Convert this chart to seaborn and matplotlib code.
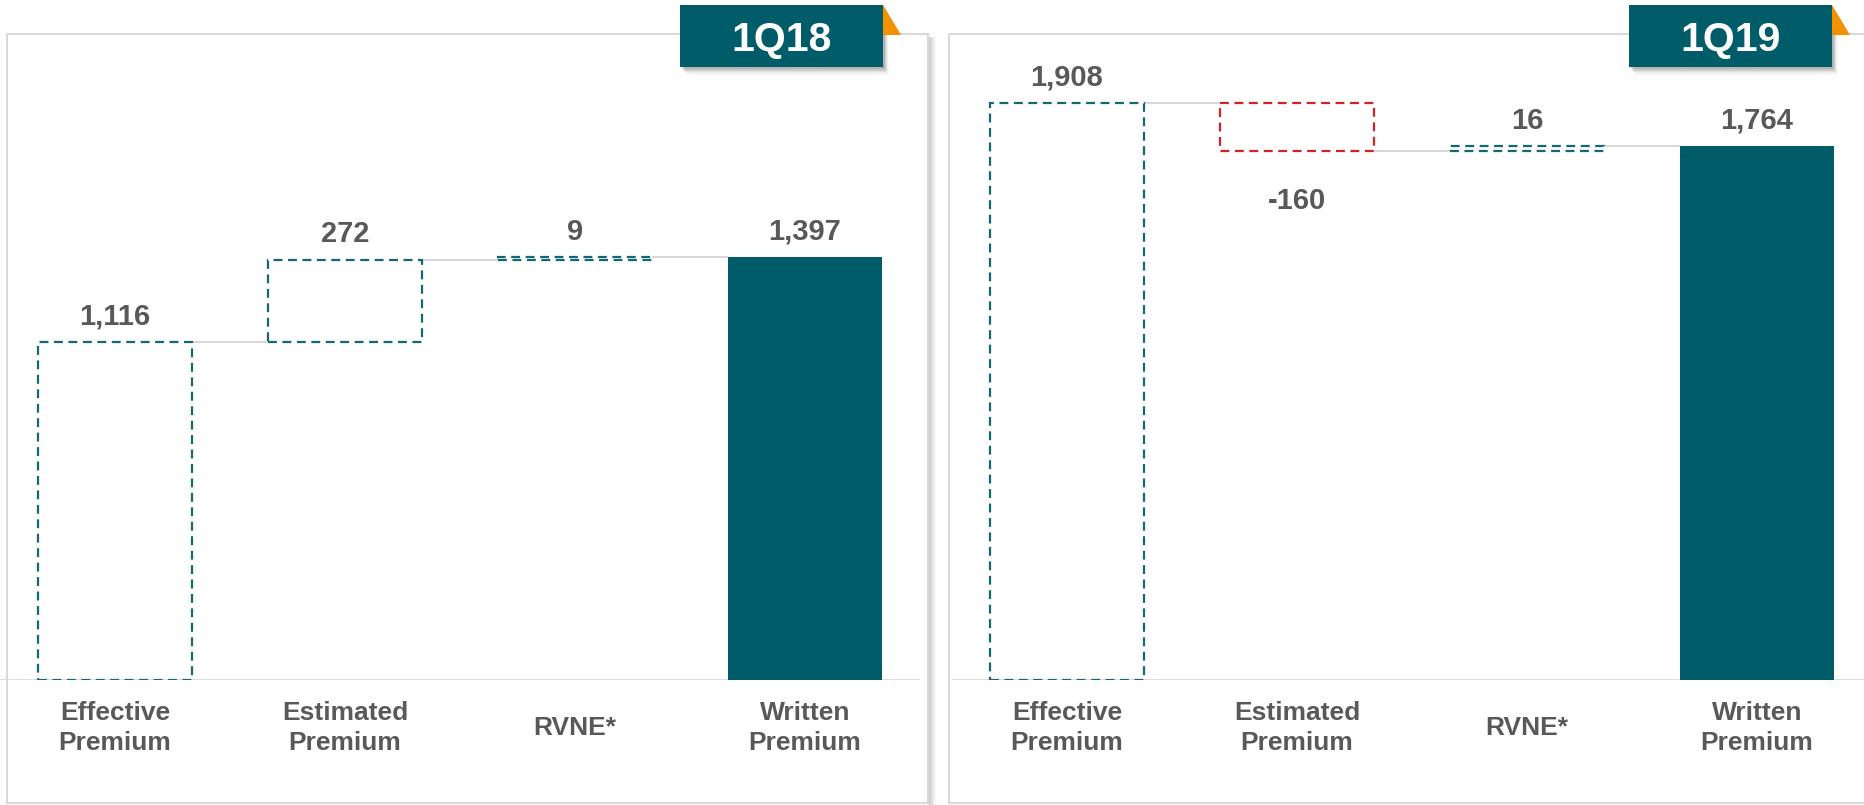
import matplotlib
matplotlib.use("Agg")
import matplotlib.pyplot as plt
from matplotlib.patches import Rectangle, Polygon
import seaborn as sns

# data
categories = ["Effective\nPremium", "Estimated\nPremium", "RVNE*", "Written\nPremium"]
values_1q18 = [1116, 272, 9, 1397]
values_1q19 = [1908, -160, 16, 1764]
periods = ["1Q18", "1Q19"]

TEAL = "#005C69"
DASH_TEAL = "#136874"
RED = "#D42027"
ORANGE = "#F39200"
GREY_TXT = "#595959"
GREY_LINE = "#D9D9D9"

sns.set_theme(style="white")
plt.rcParams['font.family'] = ['Liberation Sans', 'DejaVu Sans']

W, H = 1864, 805
fig = plt.figure(figsize=(W / 100, H / 100), dpi=100)

# background: panel frames (pixel coordinates)
bg = fig.add_axes([0, 0, 1, 1])
bg.set_xlim(0, W)
bg.set_ylim(H, 0)
bg.axis('off')
for x0, x1 in [(7, 928), (949, W + 5)]:
    bg.add_patch(Rectangle((x0, 34), x1 - x0, 769, fill=False, ec=GREY_LINE, lw=1.5))
for i, a in enumerate([0.35, 0.25, 0.15, 0.07]):
    bg.add_patch(Rectangle((929 + i * 1.8, 37), 1.8, 768, fc='#808080', ec='none', alpha=a))

PX_PER_UNIT = 0.3025
BAR_W = 0.67


def waterfall(ax, values):
    bottoms = [0, values[0], values[0] + values[1], 0]
    ends = [b + v for b, v in zip(bottoms, values)]
    sns.barplot(x=categories, y=values, ax=ax, width=BAR_W, color=TEAL, saturation=1)
    n = len(values)
    for i, (patch, b, v) in enumerate(zip(ax.patches, bottoms, values)):
        patch.set_y(b)
        patch.set_zorder(3)
        if i == n - 1:
            patch.set_facecolor(TEAL)
            patch.set_edgecolor('none')
        else:
            patch.set_facecolor('none')
            patch.set_edgecolor(RED if v < 0 else DASH_TEAL)
            patch.set_linestyle((0, (4, 2.5)))
            patch.set_linewidth(1.6)

    # connector lines between bars
    for i in range(n - 1):
        ax.hlines(ends[i], i + BAR_W / 2, i + 1 - BAR_W / 2, color=GREY_LINE, lw=1.5, zorder=1)

    # value labels
    for i, (b, v) in enumerate(zip(bottoms, values)):
        if v >= 0:
            ax.annotate(f"{v:,}", (i, b + v), xytext=(0, 8.5), textcoords='offset points',
                        ha='center', va='bottom', fontsize=21, fontweight='bold', color=GREY_TXT)
        else:
            ax.annotate(f"{v:,}", (i, b + v), xytext=(0, -26), textcoords='offset points',
                        ha='center', va='top', fontsize=21, fontweight='bold', color=GREY_TXT)

    ax.axhline(0, color=GREY_LINE, lw=2, zorder=2)
    ax.set_xticks(range(n))
    ax.set_xticklabels(categories, fontsize=19, fontweight='bold', color=GREY_TXT,
                       va='center', linespacing=1.3)
    ax.tick_params(axis='x', length=0, pad=34.5)
    ax.set_yticks([])
    ax.set_xlabel('')
    ax.set_ylabel('')
    for s in ax.spines.values():
        s.set_visible(False)
    ax.patch.set_alpha(0)


ax_h = 646 / H
ax_b = (H - 680) / H
ax1 = fig.add_axes([0, ax_b, 920 / W, ax_h])
waterfall(ax1, values_1q18)
ax1.set_xlim(-0.5, 3.5)
ax1.set_ylim(0, 646 / PX_PER_UNIT)

ax2 = fig.add_axes([952 / W, ax_b, 912 / W, ax_h])
waterfall(ax2, values_1q19)
ax2.set_xlim(-0.5, -0.5 + 912 / 230)
ax2.set_ylim(0, 646 / PX_PER_UNIT)

# period tags on top
top = fig.add_axes([0, 0, 1, 1], zorder=10)
top.set_xlim(0, W)
top.set_ylim(H, 0)
top.axis('off')
for x0, label in zip([680, 1629], periods):
    for k, a in enumerate([0.12, 0.09, 0.06, 0.04, 0.02]):
        top.add_patch(Rectangle((x0 + 2 + k, 7 + k * 1.6), 203, 62, fc='black', ec='none', alpha=a))
    top.add_patch(Rectangle((x0, 5), 203, 62, fc=TEAL, ec='none'))
    top.add_patch(Polygon([(x0 + 203, 5), (x0 + 221, 35), (x0 + 203, 35)], closed=True,
                          fc=ORANGE, ec='none'))
    top.text(x0 + 101.5, 40, label, color='white', fontsize=29.5, fontweight='bold',
             ha='center', va='center')

fig.savefig("out.png", dpi=100)
